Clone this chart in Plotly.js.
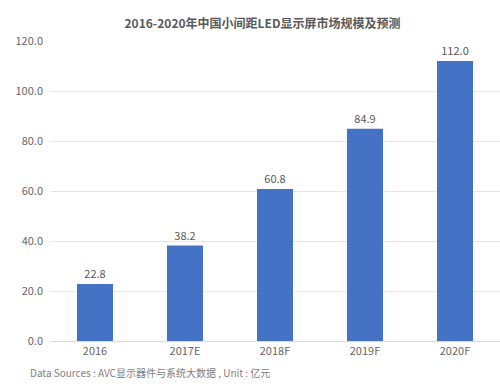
<!DOCTYPE html>
<html>
<head>
<meta charset="utf-8">
<script src="https://cdn.plot.ly/plotly-3.0.1.min.js"></script>
<style>html,body{margin:0;padding:0;background:#fff;}#chart{width:500px;height:390px;}</style>
</head>
<body>
<div id="chart"></div>
<script>
var categories = ["2016", "2017E", "2018F", "2019F", "2020F"];
var values = [22.8, 38.2, 60.8, 84.9, 112.0];
var yTicks = [0, 20, 40, 60, 80, 100, 120];
var titleText = "2016-2020年中国小间距LED显示屏市场规模及预测";
var sourceText = "Data Sources : AVC显示器件与系统大数据 , Unit : 亿元";

var font = "'Noto Sans CJK SC', 'Noto Sans', sans-serif";
var trace = {
  type: "bar",
  x: categories,
  y: values,
  width: 0.4,
  marker: {color: "#4472C4"},
  text: values.map(function(v){return v.toFixed(1);}),
  textposition: "outside",
  cliponaxis: false,
  textfont: {family: font, size: 11, color: "#595959"},
  hoverinfo: "x+y"
};
var layout = {
  width: 500, height: 390,
  margin: {l: 50, r: 0, t: 41, b: 49},
  paper_bgcolor: "#fff", plot_bgcolor: "#fff",
  showlegend: false,
  title: {text: "<b>" + titleText + "</b>", font: {family: font, size: 12, color: "#595959"}, x: 0.525, xanchor: "center", y: 0.94, yanchor: "middle"},
  xaxis: {type: "category", tickfont: {family: font, size: 11, color: "#666666"}, showline: true, linecolor: "#d9d9d9", ticks: "", showgrid: false},
  yaxis: {range: [0, 120], tickvals: yTicks, ticktext: yTicks.map(function(v){return v.toFixed(1);}), tickfont: {family: font, size: 11, color: "#666666"}, showgrid: true, gridcolor: "#e6e6e6", zeroline: false, ticks: "", ticklabelstandoff: 6},
  annotations: [{text: sourceText, xref: "paper", yref: "paper", x: -0.05, y: -0.105, xanchor: "left", yanchor: "middle", showarrow: false, font: {family: font, size: 10, color: "#808080"}}]
};
Plotly.newPlot("chart", [trace], layout, {displayModeBar: false, staticPlot: true});
</script>
</body>
</html>
